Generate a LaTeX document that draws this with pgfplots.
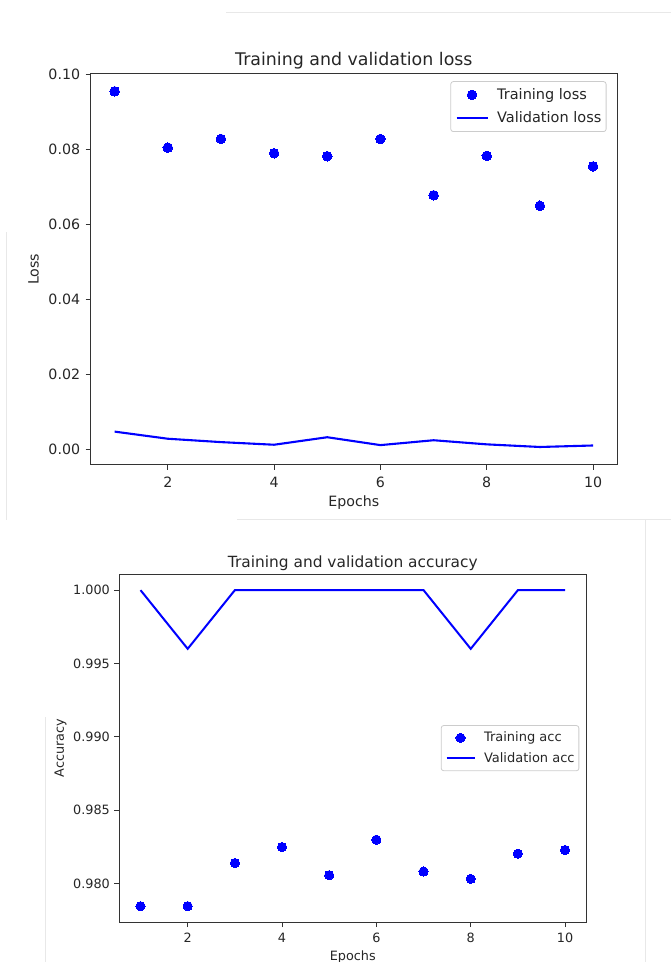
\documentclass[border=0pt]{standalone}
\usepackage{fontspec}
\setmainfont{DejaVu Sans}
\usepackage{pgfplots}
\pgfplotsset{compat=1.18}
\definecolor{mplblue}{RGB}{0,0,255}
\definecolor{txt}{RGB}{38,38,38}

\pgfplotsset{
  mplbase/.style={
    scale only axis,
    axis line style={black!80, line width=1pt},
    every tick/.style={black!80, line width=1pt},
    tick align=outside,
    major tick length=5pt,
    tick pos=left,
    xmin=0.55, xmax=10.45,
    xtick={2,4,6,8,10},
    scaled x ticks=false, scaled y ticks=false,
    /pgf/number format/assume math mode=true,
    xticklabel style={anchor=north, inner sep=0pt, text=txt},
    yticklabel style={anchor=east, inner sep=0pt, text=txt},
    label style={text=txt},
    title style={text=txt, inner sep=0pt},
    legend cell align=left,
    legend image code/.code={\draw[mark repeat=2,mark phase=2,#1] plot coordinates {(0pt,0pt) (15.5pt,0pt) (31pt,0pt)};},
  },
}

\begin{document}
\begin{tikzpicture}
\path[use as bounding box] (0pt,0pt) rectangle (671pt,962pt);
% faint screenshot frame lines
\draw[black!9, line width=1pt] (226pt,949.7pt) -- (671pt,949.7pt);
\draw[black!9, line width=1pt] (6.5pt,730pt) -- (6.5pt,442pt);
\draw[black!9, line width=1pt] (237pt,442pt) -- (671pt,442pt);
\draw[black!9, line width=1pt] (645pt,442pt) -- (645pt,0pt);
\draw[black!9, line width=1pt] (45pt,245pt) -- (45pt,0pt);

% ---------------- Loss ----------------
\begin{axis}[
  mplbase,
  at={(90.7pt,497pt)}, anchor=south west,
  width=526.3pt, height=391.3pt,
  ymin=-0.0042, ymax=0.1001,
  ytick={0,0.02,0.04,0.06,0.08,0.10},
  yticklabel style={/pgf/number format/fixed, /pgf/number format/fixed zerofill, /pgf/number format/precision=2},
  tick label style={font=\fontsize{14.2}{16}\selectfont},
  xticklabel style={yshift=-6.6pt},
  yticklabel style={xshift=-5.4pt},
  title={Training and validation loss},
  title style={font=\fontsize{17.4}{19}\selectfont, at={(axis description cs:0.5,1)}, anchor=center, yshift=6.9pt},
  xlabel={Epochs},
  xlabel style={font=\fontsize{14.2}{16}\selectfont, at={(axis description cs:0.5,0)}, anchor=center, yshift=-37.5pt},
  ylabel={Loss},
  ylabel style={font=\fontsize{14.2}{16}\selectfont, at={(axis description cs:0,0.5)}, anchor=center, yshift=57.1pt},
  legend style={draw=black!20, line width=0.8pt, rounded corners=2.5pt, fill=white,
    at={(rel axis cs:1,1)}, anchor=north east, xshift=-10.5pt, yshift=-7.5pt,
    inner xsep=4.75pt, inner ysep=7.5pt, row sep=12pt, column sep=8.5pt,
    font=\fontsize{14.5}{16}\selectfont, text=txt, nodes={inner sep=0pt}},
]
\addplot[only marks, mark=*, mark size=4.8pt, mplblue, mark options={draw=mplblue, fill=mplblue, line width=0pt}] coordinates {
  (1,0.0954) (2,0.0804) (3,0.0827) (4,0.0789) (5,0.0781) (6,0.0827) (7,0.0677) (8,0.0782) (9,0.0649) (10,0.0754)
};
\addlegendentry{\raisebox{0pt}[10pt][0pt]{Training loss}}
\addplot[mplblue, line width=2.1pt, no marks] coordinates {
  (1,0.0047) (2,0.0028) (3,0.0019) (4,0.0012) (5,0.0032) (6,0.0011) (7,0.0024) (8,0.0013) (9,0.0006) (10,0.0010)
};
\addlegendentry{\raisebox{0pt}[10pt][0pt]{Validation loss}}
\end{axis}

% ---------------- Accuracy ----------------
\begin{axis}[
  mplbase,
  at={(119.3pt,40pt)}, anchor=south west,
  width=467pt, height=347.7pt,
  ymin=0.97738, ymax=1.00108,
  ytick={0.980,0.985,0.990,0.995,1.000},
  yticklabel style={/pgf/number format/fixed, /pgf/number format/fixed zerofill, /pgf/number format/precision=3},
  tick label style={font=\fontsize{12.8}{15}\selectfont},
  xticklabel style={yshift=-5.6pt},
  yticklabel style={xshift=-4.3pt},
  title={Training and validation accuracy},
  title style={font=\fontsize{15.4}{18}\selectfont, at={(axis description cs:0.5,1)}, anchor=center, yshift=5pt},
  xlabel={Epochs},
  xlabel style={font=\fontsize{12.8}{15}\selectfont, at={(axis description cs:0.5,0)}, anchor=center, yshift=-34.5pt},
  ylabel={Accuracy},
  ylabel style={font=\fontsize{12.8}{15}\selectfont, at={(axis description cs:0,0.5)}, anchor=center, yshift=58.8pt},
  legend image code/.code={\draw[mark repeat=2,mark phase=2,#1] plot coordinates {(0pt,0pt) (14pt,0pt) (28pt,0pt)};},
  legend style={draw=black!20, line width=0.8pt, rounded corners=2.5pt, fill=white,
    at={(rel axis cs:1,0.5)}, anchor=east, xshift=-7pt,
    inner xsep=4.3pt, inner ysep=7pt, row sep=9.8pt, column sep=8.5pt,
    font=\fontsize{13}{15}\selectfont, text=txt, nodes={inner sep=0pt}},
]
\addplot[only marks, mark=*, mark size=4.6pt, mplblue, mark options={draw=mplblue, fill=mplblue, line width=0pt}] coordinates {
  (1,0.97846) (2,0.97846) (3,0.98140) (4,0.98249) (5,0.98057) (6,0.98299) (7,0.98082) (8,0.98032) (9,0.98204) (10,0.98229)
};
\addlegendentry{\raisebox{0pt}[9.2pt][0pt]{Training acc}}
\addplot[mplblue, line width=2pt, no marks] coordinates {
  (1,1.000) (2,0.996) (3,1.000) (4,1.000) (5,1.000) (6,1.000) (7,1.000) (8,0.996) (9,1.000) (10,1.000)
};
\addlegendentry{\raisebox{0pt}[9.2pt][0pt]{Validation acc}}
\end{axis}
\end{tikzpicture}
\end{document}
